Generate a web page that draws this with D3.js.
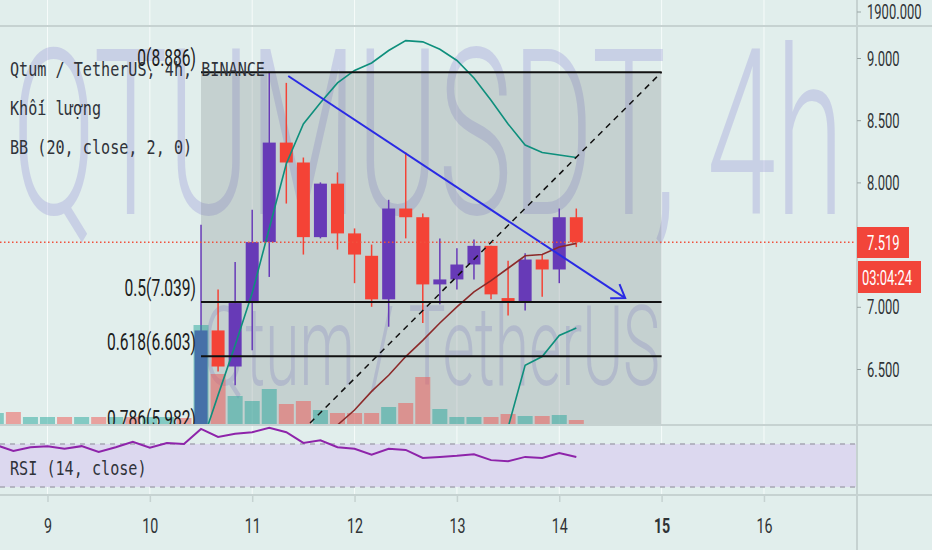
<!DOCTYPE html>
<html>
<head>
<meta charset="utf-8">
<script src="https://cdn.jsdelivr.net/npm/d3@7"></script>
<style>
  html, body { margin: 0; padding: 0; background: #e1eeec; }
  svg { display: block; }
</style>
</head>
<body>
<svg id="chart"></svg>
<script>
// QTUM/USDT 4h, bars from the 8th 12:00, one every 4 hours
var firstBarDay = 8.5;
var opens  = [5.38,5.42,5.39,5.44,5.47,5.43,5.48,5.44,5.49,5.46,5.50,5.53,
              5.50,6.81,6.52,7.03,7.52,8.32,8.16,7.56,7.99,7.59,7.41,7.06,7.79,7.72,7.18,7.22,7.34,7.49,7.07,7.04,7.38,7.30,7.72];
var highs  = [5.45,5.46,5.47,5.50,5.49,5.51,5.50,5.52,5.52,5.53,5.56,5.56,
              7.66,7.14,7.36,7.78,8.886,8.80,8.20,8.00,8.08,7.63,7.50,7.86,8.24,7.75,7.55,7.47,7.54,7.49,7.37,7.43,7.42,7.79,7.79];
var lows   = [5.35,5.36,5.37,5.41,5.40,5.41,5.42,5.42,5.44,5.44,5.48,5.47,
              5.19,6.48,6.37,6.65,7.24,7.83,7.42,7.55,7.46,7.19,7.00,6.84,7.55,6.87,7.02,7.14,7.22,7.06,6.93,6.97,7.08,7.19,7.48];
var closes = [5.42,5.39,5.44,5.47,5.43,5.48,5.44,5.49,5.46,5.50,5.53,5.50,
              6.81,6.52,7.03,7.52,8.32,8.16,7.56,7.99,7.59,7.42,7.06,7.79,7.72,7.18,7.22,7.34,7.49,7.10,7.04,7.38,7.30,7.72,7.519];
var volumes = [180,195,120,120,120,120,120,120,120,120,120,105,
               1500,765,435,360,540,315,360,225,180,180,180,270,330,720,240,120,120,120,165,135,135,150,75];
var rsi = [69,63.5,67,68,65.5,68,62.5,67,72,66.5,71,70,
           84,76.5,79.5,81,85,81,71,73.5,67,65.5,60,65.5,64.5,57,58,59,60.5,55,54,58,57,61.5,58];

// Bollinger bands (only the part that reaches the visible range), with first bar index
var upperFrom = 12;
var bbUpper = [5.88,6.29,6.69,7.11,7.63,8.15,8.47,8.64,8.80,8.90,8.96,9.06,9.14,9.13,9.07,8.98,8.84,8.66,8.47,8.30,8.24,8.22,8.20];
var middleFrom = 19;
var bbMiddle = [5.93,6.05,6.17,6.32,6.45,6.60,6.73,6.87,7.00,7.12,7.21,7.31,7.41,7.42,7.48,7.51];
var lowerFrom = 29;
var bbLower = [5.75,6.03,6.53,6.60,6.77,6.83];

// drawings
var fibLevels = [0, 0.5, 0.618, 0.786];
var fibHigh = 8.886, fibLow = 5.1918, fibFrom = 10.5, fibTo = 15;
var trendFrom = [11.352, 8.855], trendTo = [14.644, 7.07];

var priceTicks = [6.5, 7.0, 7.5, 8.0, 8.5, 9.0];
var dayTicks = [9, 10, 11, 12, 13, 14, 15, 16];
var countdown = "03:04:24";
var legendLines = ["Qtum / TetherUS, 4h, BINANCE", "Khối lượng", "BB (20, close, 2, 0)"];

var W = 932, H = 550,
    axisX = 857, topSep = 26, mainBottom = 425, rsiBottom = 495;

var upCol = '#673ab7', downCol = '#f44336';

var svg = d3.select('#chart').attr('width', W).attr('height', H);

var x = d3.scaleLinear().domain([8.536, 16.909]).range([0, axisX]);
var y = d3.scaleLinear().domain([6.5, 9.0]).range([369, 58]);
var yVol = d3.scaleLinear().domain([0, 1500]).range([mainBottom, 325]);
var yRsi = d3.scaleLinear().domain([30, 70]).range([487, 444]);
function barX(i) { return x(firstBarDay + i / 6); }

// narrow text like the app font
function squeeze(sel, k) {
  sel.each(function() {
    var t = d3.select(this);
    var x0 = +t.attr('x') || 0;
    t.attr('x', x0 / k).attr('transform', 'scale(' + k + ',1)');
  });
}

svg.append('rect').attr('width', W).attr('height', H).attr('fill', '#e1eeec');

var defs = svg.append('defs');
defs.append('clipPath').attr('id', 'clipMain').append('rect')
  .attr('x', 0).attr('y', topSep + 1).attr('width', axisX).attr('height', mainBottom - topSep - 1);
defs.append('clipPath').attr('id', 'clipRsi').append('rect')
  .attr('x', 0).attr('y', mainBottom + 1).attr('width', axisX).attr('height', rsiBottom - mainBottom - 1);

// vertical grid
svg.append('g').selectAll('line').data(dayTicks).enter().append('line')
  .attr('x1', d => x(d)).attr('x2', d => x(d))
  .attr('y1', 0).attr('y2', rsiBottom)
  .attr('stroke', '#f6fbfa').attr('stroke-width', 1);

var main = svg.append('g').attr('clip-path', 'url(#clipMain)');

// watermark
var wmCol = 'rgba(150,146,214,0.32)';
main.append('text').text('QTUMUSDT, 4h')
  .attr('x', 12).attr('y', 214)
  .attr('font-family', 'Roboto, sans-serif').attr('font-size', 232).attr('font-weight', 300)
  .attr('textLength', 832).attr('lengthAdjust', 'spacingAndGlyphs')
  .attr('fill', wmCol);
main.append('text').text('Qtum / TetherUS')
  .attr('x', 203).attr('y', 385)
  .attr('font-family', 'Roboto, sans-serif').attr('font-size', 112).attr('font-weight', 300)
  .attr('textLength', 457).attr('lengthAdjust', 'spacingAndGlyphs')
  .attr('fill', wmCol);

// fib background
var fibPrice = function(l) { return fibHigh - l * (fibHigh - fibLow); };
main.append('rect')
  .attr('x', x(fibFrom)).attr('width', x(fibTo) - x(fibFrom))
  .attr('y', y(fibHigh)).attr('height', y(fibPrice(0.786)) - y(fibHigh))
  .attr('fill', 'rgba(110,118,120,0.24)');

// candles
var idx = d3.range(opens.length);
var candles = main.append('g').selectAll('g').data(idx).enter().append('g');
candles.append('line')
  .attr('x1', i => barX(i)).attr('x2', i => barX(i))
  .attr('y1', i => y(highs[i])).attr('y2', i => y(lows[i]))
  .attr('stroke', i => closes[i] >= opens[i] ? upCol : downCol)
  .attr('stroke-width', 1.5);
candles.append('rect')
  .attr('x', i => barX(i) - 6.5).attr('width', 13)
  .attr('y', i => y(Math.max(opens[i], closes[i])))
  .attr('height', i => Math.max(1, Math.abs(y(opens[i]) - y(closes[i]))))
  .attr('fill', i => closes[i] >= opens[i] ? upCol : downCol);

// volume
main.append('g').selectAll('rect').data(idx).enter().append('rect')
  .attr('x', i => barX(i) - 7.5).attr('width', 15)
  .attr('y', i => yVol(volumes[i])).attr('height', i => mainBottom - yVol(volumes[i]))
  .attr('fill', i => closes[i] >= opens[i] ? 'rgba(38,166,154,0.5)' : 'rgba(239,83,80,0.5)');

// bollinger bands
function band(vals, from) {
  return d3.line().x((d, j) => barX(from + j)).y(d => y(d))(vals);
}
main.append('path').attr('d', band(bbUpper, upperFrom))
  .attr('fill', 'none').attr('stroke', '#0e8f7c').attr('stroke-width', 1.6);
main.append('path').attr('d', band(bbLower, lowerFrom))
  .attr('fill', 'none').attr('stroke', '#0e8f7c').attr('stroke-width', 1.6);
main.append('path').attr('d', band(bbMiddle, middleFrom))
  .attr('fill', 'none').attr('stroke', '#8c2a2a').attr('stroke-width', 1.6);

// fib lines and labels
main.selectAll('.fibline').data(fibLevels).enter().append('line')
  .attr('x1', x(fibFrom)).attr('x2', x(fibTo))
  .attr('y1', d => y(fibPrice(d))).attr('y2', d => y(fibPrice(d)))
  .attr('stroke', '#111').attr('stroke-width', 2);
main.selectAll('.fiblabel').data(fibLevels).enter().append('text')
  .text(d => d + '(' + fibPrice(d).toFixed(3) + ')')
  .attr('x', x(fibFrom) - 5).attr('y', d => y(fibPrice(d)) - 6)
  .attr('text-anchor', 'end')
  .attr('font-family', 'Roboto, sans-serif').attr('font-size', 24)
  .attr('fill', '#1c1c1c')
  .call(squeeze, 0.65);
main.append('line')
  .attr('x1', x(fibFrom)).attr('y1', y(fibLow))
  .attr('x2', x(fibTo)).attr('y2', y(fibHigh))
  .attr('stroke', '#111').attr('stroke-width', 1.5).attr('stroke-dasharray', '6,5');

// trend line with open arrow
var tx1 = x(trendFrom[0]), ty1 = y(trendFrom[1]), tx2 = x(trendTo[0]), ty2 = y(trendTo[1]);
main.append('line').attr('x1', tx1).attr('y1', ty1).attr('x2', tx2).attr('y2', ty2)
  .attr('stroke', '#2a2ae4').attr('stroke-width', 2);
var ang = Math.atan2(ty2 - ty1, tx2 - tx1), len = 15;
var head = [[tx2 - len * Math.cos(ang - 0.6), ty2 - len * Math.sin(ang - 0.6)], [tx2, ty2],
            [tx2 - len * Math.cos(ang + 0.6), ty2 - len * Math.sin(ang + 0.6)]];
main.append('path').attr('d', d3.line()(head))
  .attr('fill', 'none').attr('stroke', '#2a2ae4').attr('stroke-width', 2);

// last price line
var last = closes[closes.length - 1];
svg.append('line').attr('x1', 0).attr('x2', axisX).attr('y1', y(last)).attr('y2', y(last))
  .attr('stroke', '#f0503c').attr('stroke-width', 1.3).attr('stroke-dasharray', '1.5,2.5');

// legend
svg.append('g').selectAll('text').data(legendLines).enter().append('text')
  .text(d => d)
  .attr('x', 10).attr('y', (d, i) => 76 + i * 39)
  .attr('font-family', '"DejaVu Sans Mono", monospace').attr('font-size', 20)
  .attr('fill', '#30333a')
  .call(squeeze, 0.757);

// rsi pane
var rsiG = svg.append('g').attr('clip-path', 'url(#clipRsi)');
rsiG.append('rect').attr('x', 0).attr('width', axisX)
  .attr('y', yRsi(70)).attr('height', yRsi(30) - yRsi(70))
  .attr('fill', '#dcd8ef');
rsiG.selectAll('.rl').data([70, 30]).enter().append('line')
  .attr('x1', 0).attr('x2', axisX).attr('y1', d => yRsi(d)).attr('y2', d => yRsi(d))
  .attr('stroke', '#a6a7b4').attr('stroke-width', 1.5).attr('stroke-dasharray', '5,5');
rsiG.append('path').attr('d', d3.line().x((d, i) => barX(i)).y(d => yRsi(d))(rsi))
  .attr('fill', 'none').attr('stroke', '#8e24aa').attr('stroke-width', 2);
svg.append('text').text('RSI (14, close)')
  .attr('x', 10).attr('y', 475)
  .attr('font-family', '"DejaVu Sans Mono", monospace').attr('font-size', 20)
  .attr('fill', '#30333a')
  .call(squeeze, 0.757);

// separators
svg.append('g').selectAll('line').data([topSep, mainBottom, rsiBottom]).enter().append('line')
  .attr('x1', 0).attr('x2', W).attr('y1', d => d).attr('y2', d => d)
  .attr('stroke', '#c6d2d1').attr('stroke-width', 2);
svg.append('line').attr('x1', axisX).attr('x2', axisX).attr('y1', 0).attr('y2', H)
  .attr('stroke', '#c6d2d1').attr('stroke-width', 2);

// price axis
var yAxis = svg.append('g').attr('transform', 'translate(' + axisX + ',0)')
  .call(d3.axisRight(y).tickValues(priceTicks).tickFormat(d3.format('.3f')).tickSize(4).tickPadding(6));
yAxis.select('.domain').remove();
yAxis.selectAll('line').attr('stroke', '#9aa6a6');
yAxis.selectAll('text').attr('font-family', 'Roboto, sans-serif').attr('font-size', 20)
  .attr('fill', '#2f3336').attr('dy', '0.35em').call(squeeze, 0.65);

// scale of the upper pane
svg.append('line').attr('x1', axisX).attr('x2', axisX + 4).attr('y1', 12).attr('y2', 12).attr('stroke', '#9aa6a6');
svg.append('text').text('1900.000').attr('x', axisX + 10).attr('y', 19)
  .attr('font-family', 'Roboto, sans-serif').attr('font-size', 20).attr('fill', '#2f3336')
  .call(squeeze, 0.65);

// last price and countdown labels
svg.append('rect').attr('x', axisX).attr('y', 227).attr('width', 52).attr('height', 31).attr('fill', '#f2453a');
svg.append('text').text(last.toFixed(3)).attr('x', axisX + 10).attr('y', 250)
  .attr('font-family', 'Roboto, sans-serif').attr('font-size', 20).attr('fill', '#fff')
  .call(squeeze, 0.65);
svg.append('rect').attr('x', axisX + 1).attr('y', 261).attr('width', 63).attr('height', 32).attr('fill', '#f2453a');
svg.append('text').text(countdown).attr('x', axisX + 5).attr('y', 285)
  .attr('font-family', 'Roboto, sans-serif').attr('font-size', 20).attr('fill', '#fff')
  .call(squeeze, 0.65);

// time axis
var xAxis = svg.append('g').attr('transform', 'translate(0,' + rsiBottom + ')')
  .call(d3.axisBottom(x).tickValues(dayTicks).tickFormat(d3.format('d')).tickSize(7));
xAxis.select('.domain').remove();
xAxis.selectAll('line').attr('stroke', '#c6d2d1').attr('stroke-width', 1.5);
xAxis.selectAll('text').attr('y', 38).attr('dy', null)
  .attr('font-family', 'Roboto, sans-serif').attr('font-size', 21)
  .attr('font-weight', d => d === 15 ? 'bold' : null)
  .attr('fill', '#2f3336').call(squeeze, 0.68);
</script>
</body>
</html>
